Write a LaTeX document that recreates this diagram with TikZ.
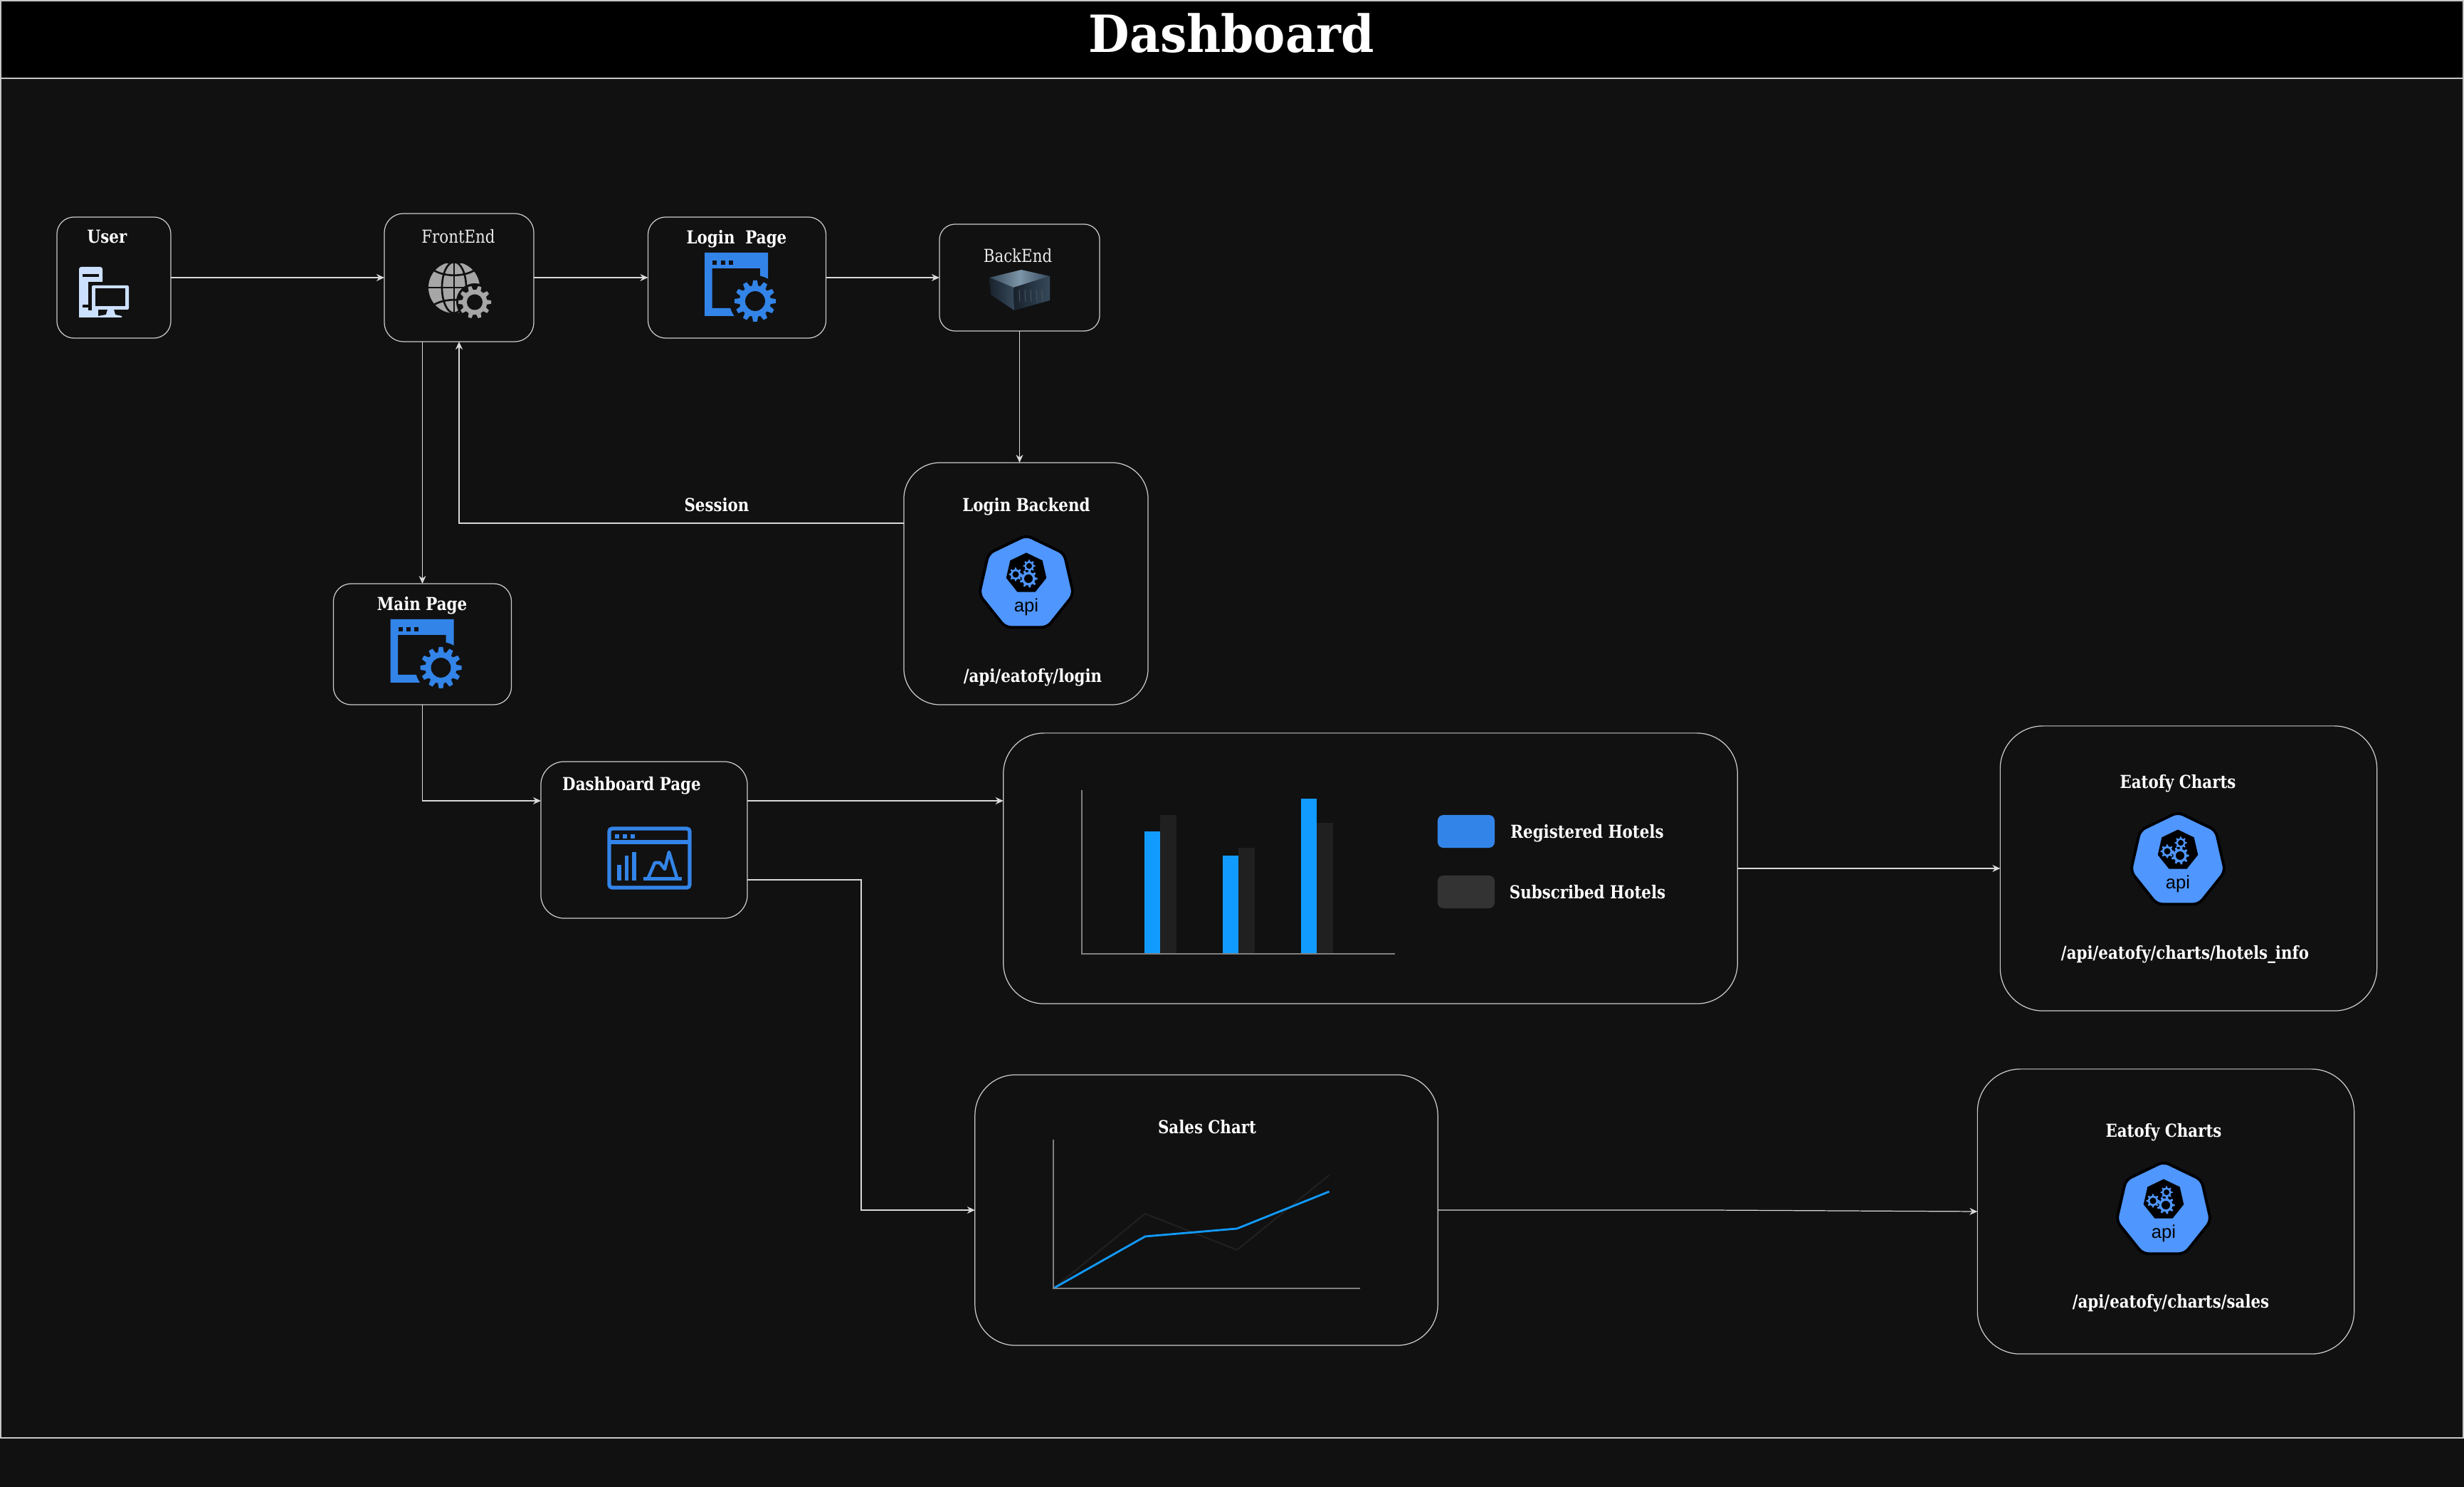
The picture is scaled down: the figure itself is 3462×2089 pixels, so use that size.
\documentclass[tikz,border=0pt]{standalone}
\usepackage{fontspec}
\setmainfont{DejaVu Serif}[FakeStretch=0.85]
\newfontfamily\titlefont{DejaVu Serif}[FakeStretch=0.92]
\newfontfamily\apifont{Liberation Sans}
\usepackage[HTML]{xcolor}
\usetikzlibrary{positioning, arrows.meta}

\definecolor{pagebg}{HTML}{111111}
\definecolor{iconblue}{HTML}{3384E8}
\definecolor{apiblue}{HTML}{4F96FF}
\definecolor{barblue}{HTML}{129BFF}
\definecolor{bargray}{HTML}{202020}
\definecolor{keygray}{HTML}{333333}
\definecolor{axisgray}{HTML}{808080}
\definecolor{globegray}{HTML}{A6A6A6}
\definecolor{userblue}{HTML}{CCE0FF}
\definecolor{serverlight}{HTML}{7D95A8}
\definecolor{servermid}{HTML}{35495A}
\definecolor{serverdark}{HTML}{18222C}

\tikzset{
  pagebox/.style={draw=white!80!black, fill=pagebg, line width=0.35pt, outer sep=0pt, inner sep=0pt},
  link/.style={draw=white!85!black, line width=0.35pt, -{Stealth[length=1.1mm,width=1mm]}},
  lbl/.style={text=white, font=\bfseries\fontsize{7.15}{9}\selectfont, inner sep=0pt},
  thinlbl/.style={text=white!92!black, font=\fontsize{7.15}{9}\selectfont, inner sep=0pt},
  keybox/.style={minimum width=0.8cm, minimum height=0.46cm, rounded corners=0.08cm, inner sep=0pt},
}

% gear at #1, outer radius #2, #3 teeth, colour #4, hole colour #5
\newcommand{\gearwheel}[5]{
  \begin{scope}[shift={#1}]
    \fill[#4] (0,0) circle[radius=0.76*#2];
    \pgfmathsetmacro{\gearstep}{360/#3}
    \foreach \k in {1,...,#3} {
      \fill[#4, rotate=\k*\gearstep] (0.7*#2,-0.15*#2) -- (#2,-0.1*#2) -- (#2,0.1*#2) -- (0.7*#2,0.15*#2) -- cycle;
    }
    \fill[#5] (0,0) circle[radius=0.48*#2];
  \end{scope}
}

\tikzset{
  windowgear/.pic={
    \fill[iconblue, even odd rule] (0,0) rectangle (89,89) (10.5,22) rectangle (78,78);
    \foreach \dx in {11,22.5,33.5} \fill[pagebg] (\dx,11) rectangle (\dx+6,17);
    \fill[pagebg] (71,68) circle[radius=36];
    \gearwheel{(71,68)}{29}{12}{iconblue}{pagebg}
  },
  apibadge/.pic={
    \fill[apiblue, draw=black, line width=1.1pt, rounded corners=0.08cm] (-90:68) -- (-38.57:68) -- (12.86:68) -- (64.29:68) -- (115.71:68) -- (167.14:68) -- (218.57:68) -- cycle;
    \fill[black, shift={(0,-14.5)}] (-90:29) -- (-38.57:29) -- (12.86:29) -- (64.29:29) -- (115.71:29) -- (167.14:29) -- (218.57:29) -- cycle;
    \gearwheel{(3,-7)}{12.5}{9}{apiblue}{black}
    \gearwheel{(-15,-13)}{9.5}{8}{apiblue}{black}
    \gearwheel{(4,-25)}{8.5}{8}{apiblue}{black}
    \node[text=black, inner sep=0pt, font=\apifont\fontsize{7.3}{9}\selectfont] at (0,33) {api};
  },
}

\begin{document}
\begin{tikzpicture}[x=0.01cm, y=-0.01cm]
\useasboundingbox (0,0) rectangle (3462,2089);
\fill[pagebg] (0,0) rectangle (3462,2089);

% header and frame
\draw[fill=black, draw=white!78!black, line width=0.4pt] (1,1) rectangle (3461,110);
\draw[draw=white!78!black, line width=0.4pt] (1,110) rectangle (3461,2020);
\node[text=white, inner sep=0pt, font=\titlefont\bfseries\fontsize{20.5}{24}\selectfont] (title) at (1730,47) {Dashboard};

% boxes
\node[pagebox, minimum width=1.6cm, minimum height=1.7cm, rounded corners=0.24cm] (user) at (160,390) {};
\node[pagebox, minimum width=2.1cm, minimum height=1.8cm, rounded corners=0.27cm] (front) at (645,390) {};
\node[pagebox, minimum width=2.5cm, minimum height=1.7cm, rounded corners=0.25cm] (loginpage) at (1035.5,390) {};
\node[pagebox, minimum width=2.25cm, minimum height=1.5cm, rounded corners=0.22cm] (back) at (1432.5,390) {};
\node[pagebox, minimum width=3.43cm, minimum height=3.4cm, rounded corners=0.51cm] (loginback) at (1441.5,820) {};
\node[pagebox, minimum width=2.5cm, minimum height=1.7cm, rounded corners=0.25cm] (mainpage) at (593.5,905) {};
\node[pagebox, minimum width=2.9cm, minimum height=2.2cm, rounded corners=0.33cm] (dashpage) at (905,1180) {};
\node[pagebox, minimum width=10.31cm, minimum height=3.8cm, rounded corners=0.57cm] (bars) at (1925.5,1220) {};
\node[pagebox, minimum width=6.5cm, minimum height=3.8cm, rounded corners=0.57cm] (sales) at (1695,1700) {};
\node[pagebox, minimum width=5.29cm, minimum height=4cm, rounded corners=0.6cm] (hotelapi) at (3075,1220) {};
\node[pagebox, minimum width=5.29cm, minimum height=4cm, rounded corners=0.6cm] (salesapi) at (3043,1702) {};

% labels
\node[lbl] (userlbl) at (150.5,333) {User};
\node[thinlbl] (frontlbl) at (644,332) {FrontEnd};
\node[lbl] (loginlbl) at (1035,336) {Login\ \ Page};
\node[thinlbl] (backlbl) at (1430,359) {BackEnd};
\node[lbl] (sessionlbl) at (1007,709) {Session};
\node[lbl] (loginbacklbl) at (1442,712) {Login Backend};
\node[lbl] (loginapi) at (1451,952) {/api/eatofy/login};
\node[lbl] (mainlbl) at (593,851) {Main Page};
\node[lbl] (dashlbl) at (887.5,1104) {Dashboard Page};
\node[lbl] (reglbl) at (2230,1171) {Registered Hotels};
\node[lbl] (sublbl) at (2230.5,1253) {Subscribed Hotels};
\node[lbl] (saleslbl) at (1696,1583) {Sales Chart};
\node[lbl] (hotelchart) at (3060,1101) {Eatofy Charts};
\node[lbl] (hotelpath) at (3070,1341) {/api/eatofy/charts/hotels\_info};
\node[lbl] (saleschart) at (3040,1591) {Eatofy Charts};
\node[lbl] (salespath) at (3050,1831) {/api/eatofy/charts/sales};

% connectors
\coordinate (sessionturn) at (1270,735);
\coordinate (dashin) at (760,1125);
\coordinate (dashout) at (1050,1125);
\coordinate (dashlow) at (1050,1236);
\draw[link] (user) -- (front);
\draw[link] (front) -- (loginpage);
\draw[link] (loginpage) -- (back);
\draw[link] (back.south) -- (back.south |- loginback.north);
\draw[link] (sessionturn) -| (front.south);
\draw[link] (front.south -| mainpage.north) -- (mainpage.north);
\draw[link] (mainpage.south) |- (dashin);
\draw[link] (dashout) -- (dashout -| bars.west);
\draw[link] (dashlow) -- (1210,1236) |- (sales.west);
\draw[link] (bars) -- (hotelapi);
\draw[link] (sales.east) -- (2400,1700) -- (salesapi.west);

% user icon
\fill[userblue, rounded corners=0.03cm] (111,375) rectangle (144,446);
\fill[pagebg] (116,385.5) rectangle (139,389.5);
\fill[pagebg] (116,428) rectangle (126,432);
\fill[pagebg] (124,396) rectangle (146,446);
\fill[userblue] (111,433) rectangle (138,446);
\fill[pagebg] (124,396) rectangle (129,436);
\fill[userblue, rounded corners=0.02cm] (129,401) rectangle (181,435);
\fill[pagebg] (134,405.5) rectangle (175.5,430.5);
\fill[userblue] (151,435) -- (160,435) -- (162,442) -- (171,444) -- (171,446) -- (138,446) -- (138,444) -- (149,442) -- cycle;

% globe icon
\begin{scope}
  \clip (602,371) rectangle (674,440);
  \fill[globegray] (638,404) ellipse[x radius=36, y radius=36];
  \draw[pagebg, line width=0.75pt] (638,368) -- (638,440);
  \draw[pagebg, line width=0.75pt] (638,404) ellipse[x radius=17, y radius=36];
  \draw[pagebg, line width=0.75pt] (602,404) -- (674,404);
  \draw[pagebg, line width=0.75pt] (610,380) .. controls (625,389) and (651,389) .. (666,380);
  \draw[pagebg, line width=0.75pt] (610,428) .. controls (625,419) and (651,419) .. (666,428);
\end{scope}
\fill[pagebg] (667,424) circle[radius=26];
\gearwheel{(667,424.5)}{23}{10}{globegray}{pagebg}

% login and main page icons
\pic (loginicon) at (990,355) {windowgear};
\pic (mainicon) at (548.5,870) {windowgear};

% server icon
\shade[left color=servermid, right color=servermid, middle color=serverlight] (1390,390) -- (1435,379) -- (1475,388) -- (1424,404) -- cycle;
\shade[left color=serverdark, right color=servermid] (1390,390) -- (1424,404) -- (1425,436) -- (1392,414) -- cycle;
\shade[left color=serverdark, right color=servermid] (1424,404) -- (1475,388) -- (1475,422) -- (1425,436) -- cycle;
\foreach \sx in {1432,1440,...,1468} \draw[serverlight!55!black, line width=0.3pt] (\sx,407) -- (\sx+1,424);

% dashboard icon
\draw[iconblue, line width=1.5pt, rounded corners=0.04cm] (856,1164) rectangle (969,1247);
\draw[iconblue, line width=1.5pt] (856,1183) -- (969,1183);
\foreach \dx in {864,875,886} \fill[iconblue] (\dx,1172) rectangle (\dx+5.5,1178);
\fill[iconblue] (867,1215) rectangle (872.5,1237);
\fill[iconblue] (877.5,1202) rectangle (883,1237);
\fill[iconblue] (888,1197) rectangle (893.6,1237);
\fill[iconblue] (904,1232) rectangle (958,1237);
\draw[iconblue, line width=1.3pt, line join=round] (911,1233) -- (920,1212) -- (927,1212) -- (934,1221) -- (940,1197) -- (951,1233);

% bar chart
\foreach \bx/\tb/\tg in {1608/1168/1145, 1718/1202/1191, 1828/1122/1156} {
  \fill[bargray] (\bx+22,1340) rectangle (\bx+44.5,\tg);
  \fill[barblue] (\bx,1340) rectangle (\bx+22,\tb);
}
\draw[axisgray, line width=0.8pt] (1520,1110) -- (1520,1340) -- (1960,1340);
\node[keybox, fill=iconblue] (regkey) at (2060,1168) {};
\node[keybox, fill=keygray] (subkey) at (2060,1253) {};

% sales chart
\draw[bargray, line width=0.6pt] (1480,1810) -- (1609,1705) -- (1738,1756) -- (1867.5,1651);
\draw[barblue, line width=0.8pt] (1480,1810) -- (1609,1737) -- (1738,1726) -- (1867.5,1674);
\draw[axisgray, line width=0.8pt] (1480,1601) -- (1480,1810) -- (1911,1810);

% api badges
\pic (loginbadge) at (1442,820) {apibadge};
\pic (hotelbadge) at (3060,1209) {apibadge};
\pic (salesbadge) at (3040,1700) {apibadge};
\end{tikzpicture}
\end{document}
